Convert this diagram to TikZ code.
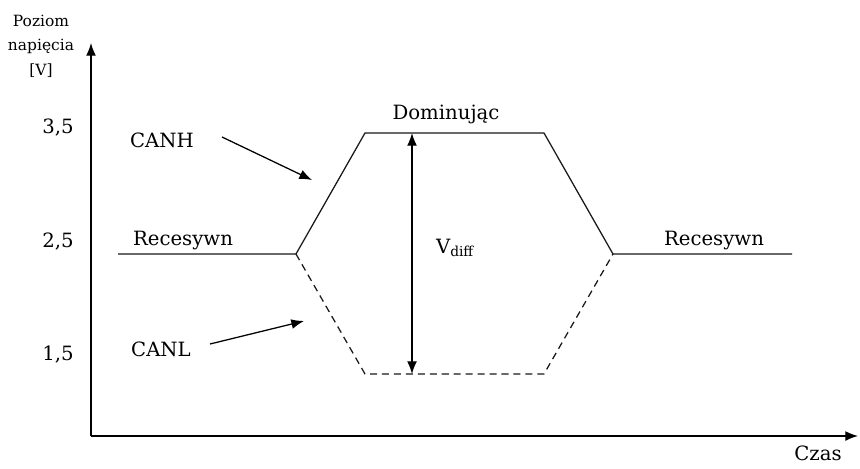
\documentclass[tikz,border=0pt]{standalone}
\usepackage{fontspec}
\setmainfont{DejaVu Serif}
\usetikzlibrary{arrows.meta}

\begin{document}
\begin{tikzpicture}[x=0.025cm,y=-0.025cm,
    lbl/.style={font=\fontsize{14}{16}\selectfont,inner sep=0pt},
    axlbl/.style={font=\fontsize{11}{17.5}\selectfont,inner sep=0pt,align=center},
    pointer/.style={-{Latex[length=9pt,width=7pt]},line width=0.9pt},
    sig/.style={line width=0.9pt,black!90}]
      \useasboundingbox (0,0) rectangle (860,468);
      % axes
      \coordinate (o) at (91,436);
      \coordinate (ytop) at (91,43);
      \coordinate (xend) at (858,436);
      \draw[pointer] (o) -- (ytop);
      \draw[pointer] (o) -- (xend);
      \node[axlbl] (ylab) at (41,46) {Poziom\\napięcia\\{[V]}};
      \node[lbl] (xlab) at (818,453) {Czas};
      \node[lbl,anchor=east] (v35) at (74,128) {3,5};
      \node[lbl,anchor=east] (v25) at (74,242) {2,5};
      \node[lbl,anchor=east] (v15) at (74,355) {1,5};
      % signal corners
      \coordinate (a) at (118,254);
      \coordinate (b) at (296,254);
      \coordinate (c) at (365,133);
      \coordinate (d) at (544,133);
      \coordinate (e) at (613,254);
      \coordinate (f) at (792,254);
      \coordinate (g) at (365,374);
      \coordinate (h) at (544,374);
      \draw[sig] (a) -- (b) -- (c) -- (d) -- (e) -- (f);
      \draw[sig,dash pattern=on 5pt off 3.5pt] (b) -- (g) -- (h) -- (e);
      % Vdiff
      \coordinate (dtop) at (412,133);
      \coordinate (dbot) at (412,374);
      \draw[pointer,{Latex[length=9pt,width=7pt]}-{Latex[length=9pt,width=7pt]}] (dbot) -- (dtop);
      \node[lbl] (vdiff) at (455,248) {V\textsubscript{diff}};
      \node[lbl] (dom) at (446,114) {Dominując};
      \node[lbl] (recl) at (183,241) {Recesywn};
      \node[lbl] (recr) at (714,241) {Recesywn};
      % pointers
      \node[lbl] (canh) at (162,140) {CANH};
      \node[lbl] (canl) at (161,349) {CANL};
      \coordinate (htip) at (312,180);
      \coordinate (ltip) at (304,321);
      \draw[pointer] (222,137) -- (htip);
      \draw[pointer] (210,344) -- (ltip);
\end{tikzpicture}
\end{document}
